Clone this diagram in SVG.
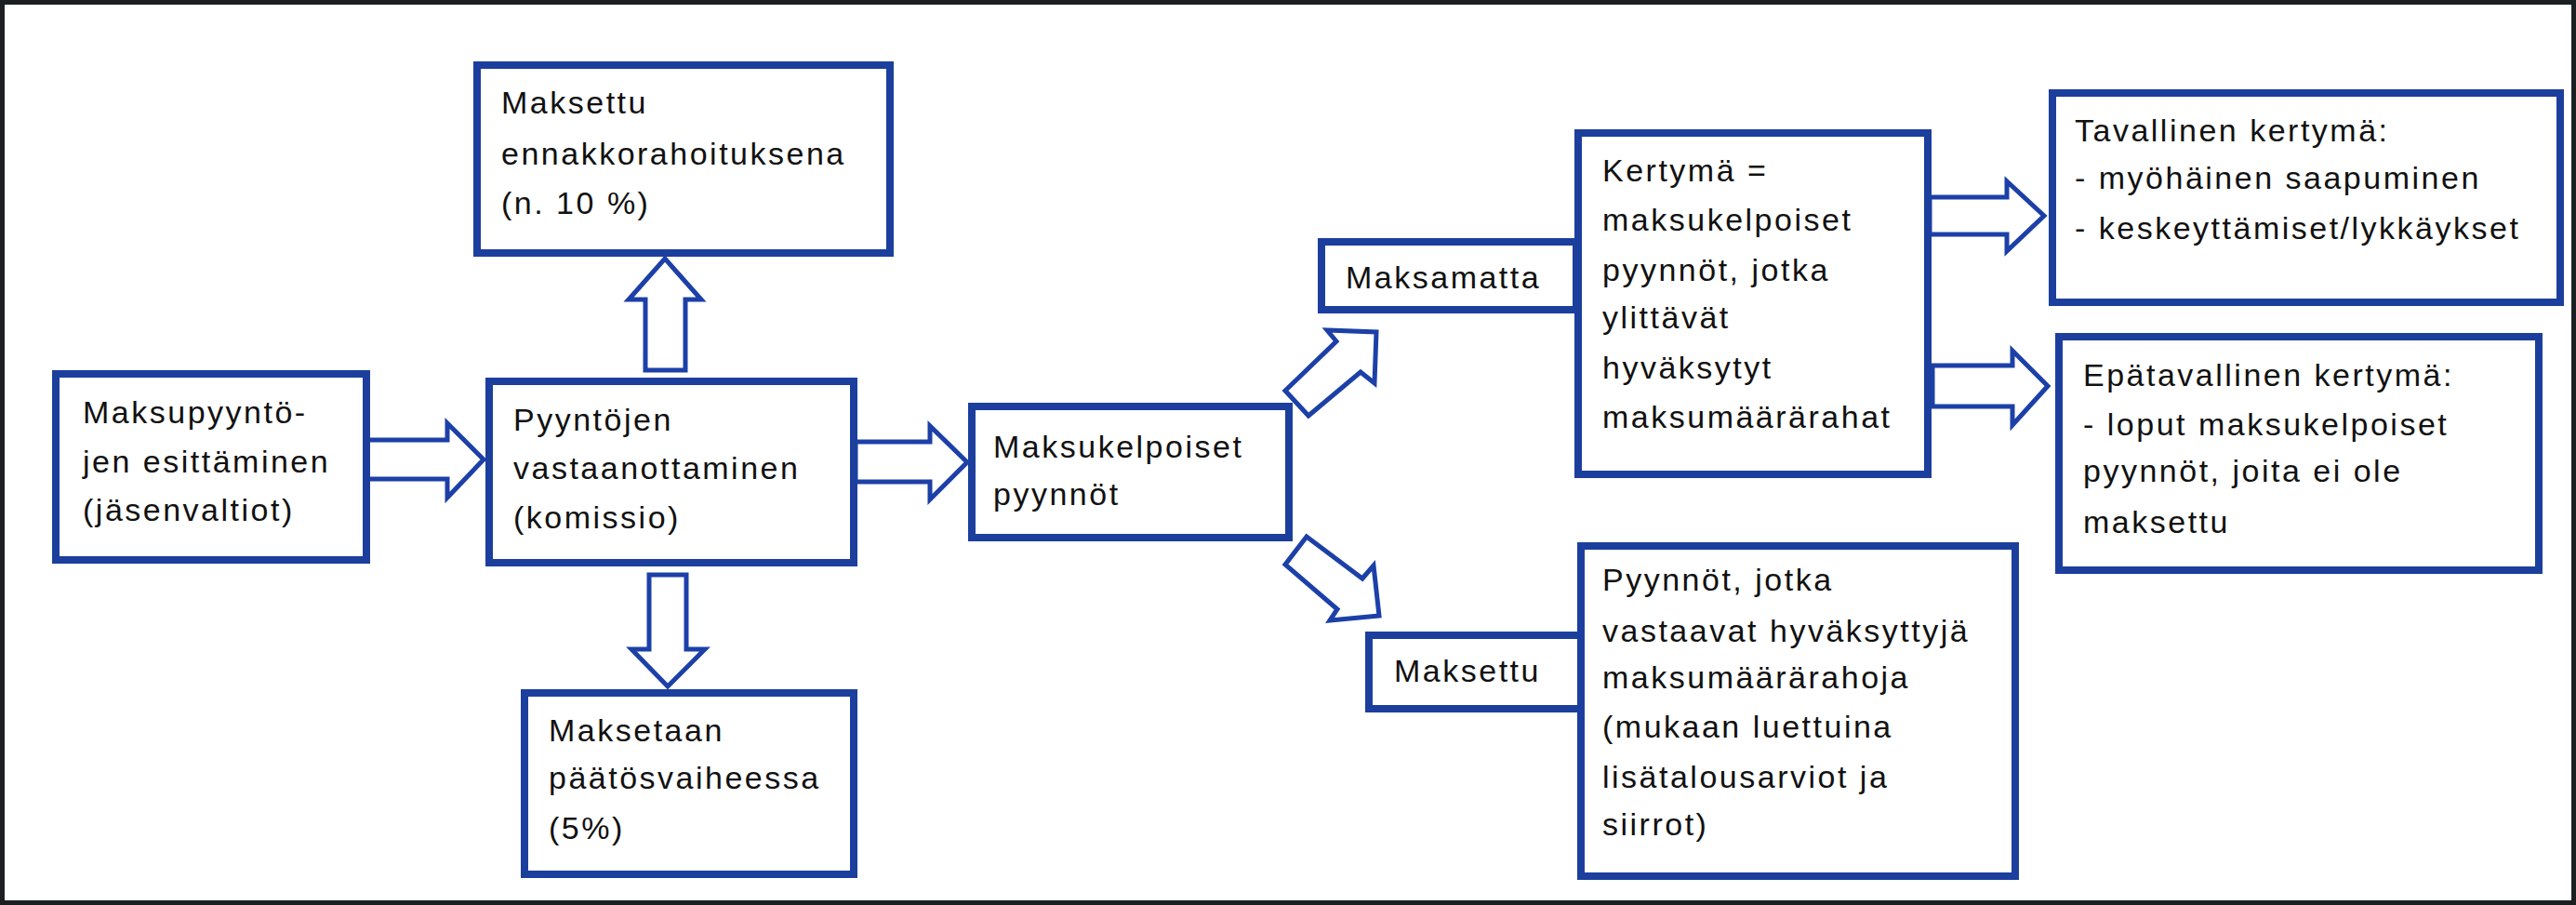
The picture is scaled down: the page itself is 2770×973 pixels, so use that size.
<svg xmlns="http://www.w3.org/2000/svg" width="2770" height="973" viewBox="0 0 2770 973">
<style>
.box{fill:#ffffff;stroke:#1c3f9e;stroke-width:8}
.arr{fill:#ffffff;stroke:#1c40a8;stroke-width:5;stroke-linejoin:miter}
text{font-family:"Liberation Sans",Arial,sans-serif;font-size:34px;letter-spacing:2.5px;fill:#111111}
</style>
<rect x="0" y="0" width="2770" height="973" fill="#ffffff"/>
<rect x="2.5" y="2.5" width="2765" height="968" fill="none" stroke="#1b1f22" stroke-width="5"/>
<g id="connectors">
<polygon class="arr" points="394,473 481,473 481,455 520,494 481,535 481,515 394,515"/>
<polygon class="arr" points="694,398 694,322 676,322 715,278 754,322 737,322 737,398"/>
<polygon class="arr" points="698,618 738,618 738,698 758,698 718,738 679,698 698,698"/>
<polygon class="arr" points="920,475 1000,475 1000,458 1040,497 1000,537 1000,518 920,518"/>
<polygon class="arr" points="1382,420 1437,367 1427,355 1480,357 1478,412 1463,400 1407,447"/>
<polygon class="arr" points="1405,577 1465,622 1477,608 1483,662 1430,667 1438,655 1382,607"/>
<polygon class="arr" points="2075,212 2158,212 2158,195 2198,232 2158,270 2158,252 2075,252"/>
<polygon class="arr" points="2078,393 2164,393 2164,377 2202,415 2164,457 2164,437 2078,437"/>
</g>
<g id="nodeA">
<rect class="box" x="60" y="402" width="334" height="200"/>
<text x="89" y="455">Maksupyyntö-</text>
<text x="89" y="508">jen esittäminen</text>
<text x="89" y="560">(jäsenvaltiot)</text>
</g>
<g id="nodeB">
<rect class="box" x="513" y="70" width="444" height="202"/>
<text x="539" y="122">Maksettu</text>
<text x="539" y="177">ennakkorahoituksena</text>
<text x="539" y="230">(n. 10 %)</text>
</g>
<g id="nodeC">
<rect class="box" x="526" y="410" width="392" height="195"/>
<text x="552" y="463">Pyyntöjen</text>
<text x="552" y="515">vastaanottaminen</text>
<text x="552" y="568">(komissio)</text>
</g>
<g id="nodeD">
<rect class="box" x="564" y="745" width="354" height="195"/>
<text x="590" y="797">Maksetaan</text>
<text x="590" y="848">päätösvaiheessa</text>
<text x="590" y="902">(5%)</text>
</g>
<g id="nodeE">
<rect class="box" x="1045" y="437" width="341" height="141"/>
<text x="1068" y="492">Maksukelpoiset</text>
<text x="1068" y="543">pyynnöt</text>
</g>
<g id="nodeF">
<rect class="box" x="1421" y="260" width="274" height="73"/>
<text x="1447" y="310">Maksamatta</text>
</g>
<g id="nodeG">
<rect class="box" x="1697" y="143" width="376" height="367"/>
<text x="1723" y="195">Kertymä =</text>
<text x="1723" y="248">maksukelpoiset</text>
<text x="1723" y="302">pyynnöt, jotka</text>
<text x="1723" y="353">ylittävät</text>
<text x="1723" y="407">hyväksytyt</text>
<text x="1723" y="460">maksumäärärahat</text>
</g>
<g id="nodeH">
<rect class="box" x="1472" y="683" width="228" height="79"/>
<text x="1499" y="733">Maksettu</text>
</g>
<g id="nodeI">
<rect class="box" x="1700" y="587" width="467" height="355"/>
<text x="1723" y="635">Pyynnöt, jotka</text>
<text x="1723" y="690">vastaavat hyväksyttyjä</text>
<text x="1723" y="740">maksumäärärahoja</text>
<text x="1723" y="793">(mukaan luettuina</text>
<text x="1723" y="847">lisätalousarviot ja</text>
<text x="1723" y="898">siirrot)</text>
</g>
<g id="nodeJ">
<rect class="box" x="2207" y="100" width="546" height="225"/>
<text x="2231" y="152">Tavallinen kertymä:</text>
<text x="2231" y="203">- myöhäinen saapuminen</text>
<text x="2231" y="257">- keskeyttämiset/lykkäykset</text>
</g>
<g id="nodeK">
<rect class="box" x="2214" y="362" width="516" height="251"/>
<text x="2240" y="415">Epätavallinen kertymä:</text>
<text x="2240" y="468">- loput maksukelpoiset</text>
<text x="2240" y="518">pyynnöt, joita ei ole</text>
<text x="2240" y="573">maksettu</text>
</g>
</svg>
